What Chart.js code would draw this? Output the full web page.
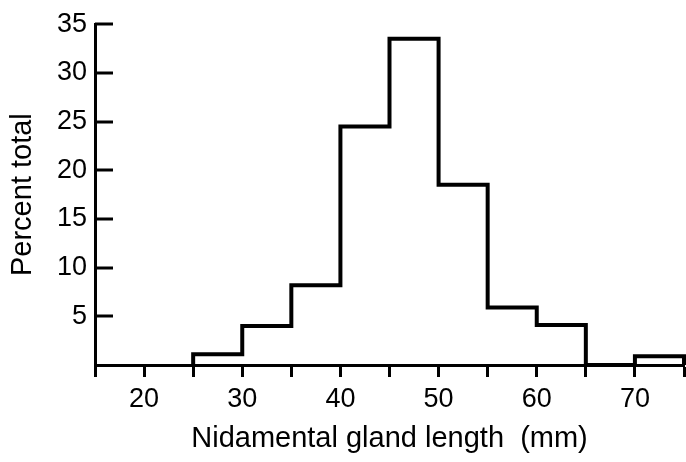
<!DOCTYPE html>
<html>
<head>
<meta charset="utf-8">
<script src="https://cdn.jsdelivr.net/npm/chart.js@4"></script>
<style>
  body { margin: 0; background: #fff; }
  canvas { display: block; }
</style>
</head>
<body>
<canvas id="histChart" width="686" height="462"></canvas>
<script>
// bin left edges (mm), each bin 5 mm wide
var binEdges = [25, 30, 35, 40, 45, 50, 55, 60, 65, 70];
var binWidth = 5;
// percent of total in each bin
var percentTotal = [1.1, 4, 8.2, 24.5, 33.5, 18.5, 5.9, 4.1, 0, 0.9];
var yTickValues = [5, 10, 15, 20, 25, 30, 35];

window.onload = function () {
  // outline of the histogram as a stepped line
  var points = [{ x: binEdges[0], y: 0 }];
  for (var i = 0; i < binEdges.length; i++) {
    points.push({ x: binEdges[i], y: percentTotal[i] });
  }
  var lastEdge = binEdges[binEdges.length - 1] + binWidth;
  points.push({ x: lastEdge, y: percentTotal[percentTotal.length - 1] });
  points.push({ x: lastEdge, y: 0 });

  var font = "'Liberation Sans', Arial, sans-serif";

  // y ticks point into the plot
  var innerTicks = {
    id: "innerTicks",
    afterDraw: function (chart) {
      var ctx = chart.ctx;
      var y = chart.scales.y;
      ctx.save();
      ctx.strokeStyle = "#000";
      ctx.lineWidth = 3;
      yTickValues.forEach(function (v) {
        var py = Math.round(y.getPixelForValue(v));
        ctx.beginPath();
        ctx.moveTo(y.right, py);
        ctx.lineTo(y.right + 18, py);
        ctx.stroke();
      });
      ctx.restore();
    }
  };

  var ctx = document.getElementById("histChart").getContext("2d");
  var histChart = new Chart(ctx, {
    type: "line",
    data: {
      datasets: [
        {
          data: points,
          stepped: "before",
          borderColor: "#000",
          borderWidth: 4,
          pointRadius: 0,
          fill: false,
          clip: 4,
          borderJoinStyle: "miter"
        }
      ]
    },
    options: {
      responsive: false,
      animation: false,
      layout: { padding: { top: 20, right: 2, left: 0, bottom: 0 } },
      plugins: { legend: { display: false }, tooltip: { enabled: false } },
      scales: {
        x: {
          type: "linear",
          min: 15,
          max: 75,
          afterFit: function (s) {
            s.height = 97;
            s.paddingRight = 0;
            s.paddingLeft = 0;
          },
          border: { color: "#000", width: 3 },
          grid: { drawOnChartArea: false, drawTicks: true, tickLength: 12, color: "#000", tickWidth: 3 },
          ticks: {
            stepSize: 5,
            color: "#000",
            padding: 6,
            maxRotation: 0,
            autoSkip: false,
            font: { family: font, size: 27 },
            callback: function (v) { return v % 10 === 0 && v < 75 ? v : ""; }
          },
          title: {
            display: true,
            text: "Nidamental gland length  (mm)",
            color: "#000",
            font: { family: font, size: 29 },
            padding: { top: 4, bottom: 6 }
          }
        },
        y: {
          min: 0,
          max: 35,
          afterFit: function (s) { s.width = 95; },
          border: { color: "#000", width: 3 },
          grid: { drawOnChartArea: false, drawTicks: false },
          ticks: {
            stepSize: 5,
            color: "#000",
            padding: 8,
            font: { family: font, size: 27 },
            callback: function (v) { return v === 0 ? "" : v; }
          },
          title: {
            display: true,
            text: "Percent total",
            color: "#000",
            font: { family: font, size: 29 },
            padding: { top: 6, bottom: 0 }
          }
        }
      }
    },
    plugins: [innerTicks]
  });
};
</script>
</body>
</html>
